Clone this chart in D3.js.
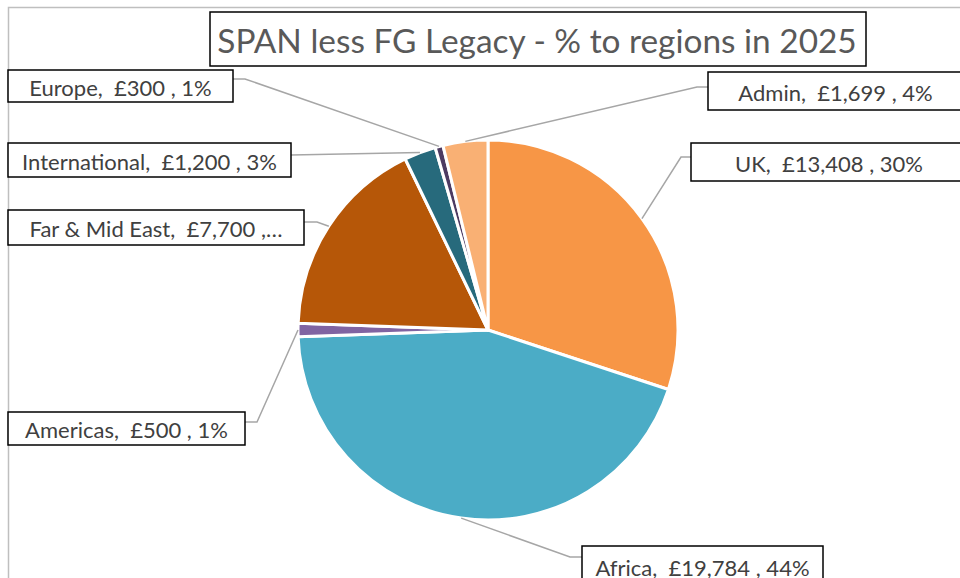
<!DOCTYPE html>
<html>
<head>
<meta charset="utf-8">
<title>SPAN less FG Legacy - % to regions in 2025</title>
<style>
  body { margin: 0; background: #fff; }
  text { font-family: Lato, "Open Sans", sans-serif; white-space: pre; }
</style>
</head>
<body>
<div id="chart"></div>
<script src="https://cdn.jsdelivr.net/npm/d3@7"></script>
<script>
// data (clockwise from 12 o'clock)
const regions = ["UK", "Africa", "Americas", "Far & Mid East", "International", "Europe", "Admin"];
const amounts = [13408, 19784, 500, 7700, 1200, 300, 1699];
const colours = ["#f79646", "#4bacc6", "#8064a2", "#b65708", "#276a7c", "#4d3b62", "#f9b074"];
const cutLabel = ["Far & Mid East"];   // label Excel cut short with an ellipsis

const width = 960, height = 578;
const cx = 488, cy = 330, radius = 190;

// where each label box sits, and the elbow of its leader line
const boxes = {
  "UK":             {x: 691, y: 143, w: 276, h: 38, ex: 681, ey: 157, lx: 691},
  "Africa":         {x: 582, y: 546, w: 241, h: 40, ex: 570, ey: 557, lx: 582},
  "Americas":       {x: 8,   y: 412, w: 237, h: 33, ex: 257, ey: 422, lx: 245},
  "Far & Mid East": {x: 8,   y: 210, w: 296, h: 35, ex: 317, ey: 222, lx: 304},
  "International":  {x: 8,   y: 143, w: 283, h: 34, ex: 291, ey: 155, lx: 291},
  "Europe":         {x: 8,   y: 70,  w: 225, h: 32, ex: 245, ey: 79,  lx: 233},
  "Admin":          {x: 708, y: 72,  w: 255, h: 38, ex: 697, ey: 87,  lx: 708}
};

const svg = d3.select("#chart").append("svg")
    .attr("width", width)
    .attr("height", height);

// chart area border
svg.append("rect")
    .attr("x", 8.5).attr("y", 7.5)
    .attr("width", 1000).attr("height", 1000)
    .attr("fill", "none")
    .attr("stroke", "#bfbfbf")
    .attr("stroke-width", 1.5);

const rows = regions.map((r, i) => ({name: r, value: amounts[i], colour: colours[i]}));
const total = d3.sum(amounts);

const pie = d3.pie().sort(null).value(d => d.value);
const arc = d3.arc().innerRadius(0).outerRadius(radius);
const edge = d3.arc().innerRadius(radius).outerRadius(radius);

const arcs = pie(rows);

const g = svg.append("g").attr("transform", `translate(${cx},${cy})`);

g.selectAll("path.slice")
  .data(arcs)
  .enter()
  .append("path")
    .attr("class", "slice")
    .attr("d", arc)
    .attr("fill", d => d.data.colour)
    .attr("stroke", "#fff")
    .attr("stroke-width", 3)
    .attr("stroke-linejoin", "round");

// leader lines
svg.selectAll("polyline.leader")
  .data(arcs)
  .enter()
  .append("polyline")
    .attr("class", "leader")
    .attr("points", d => {
      const b = boxes[d.data.name];
      const p = edge.centroid(d);
      return [[cx + p[0], cy + p[1]], [b.ex, b.ey], [b.lx, b.ey]].join(" ");
    })
    .attr("fill", "none")
    .attr("stroke", "#a6a6a6")
    .attr("stroke-width", 1.5);

const fmt = d3.format(",");
function labelText(d) {
  const pct = Math.round(d.value / total * 100);
  if (cutLabel.includes(d.name)) return `${d.name},  £${fmt(d.value)} ,\u2026`;
  return `${d.name},  £${fmt(d.value)} , ${pct}%`;
}

const labels = svg.selectAll("g.label")
  .data(rows)
  .enter()
  .append("g")
    .attr("class", "label");

labels.append("rect")
    .attr("x", d => boxes[d.name].x)
    .attr("y", d => boxes[d.name].y)
    .attr("width", d => boxes[d.name].w)
    .attr("height", d => boxes[d.name].h)
    .attr("fill", "#fff")
    .attr("stroke", "#000")
    .attr("stroke-width", 1.5);

labels.append("text")
    .attr("x", d => boxes[d.name].x + boxes[d.name].w / 2)
    .attr("y", d => boxes[d.name].y + boxes[d.name].h / 2 + 1)
    .attr("text-anchor", "middle")
    .attr("dominant-baseline", "central")
    .attr("fill", "#404040")
    .style("font-size", "22px")
    .text(labelText);

// title
svg.append("rect")
    .attr("x", 210).attr("y", 12)
    .attr("width", 656).attr("height", 54)
    .attr("fill", "#fff")
    .attr("stroke", "#000")
    .attr("stroke-width", 1.5);

svg.append("text")
    .attr("x", 537)
    .attr("y", 40)
    .attr("text-anchor", "middle")
    .attr("dominant-baseline", "central")
    .attr("fill", "#595959")
    .style("font-size", "33.4px")
    .text("SPAN less FG Legacy - % to regions in 2025");
</script>
</body>
</html>
